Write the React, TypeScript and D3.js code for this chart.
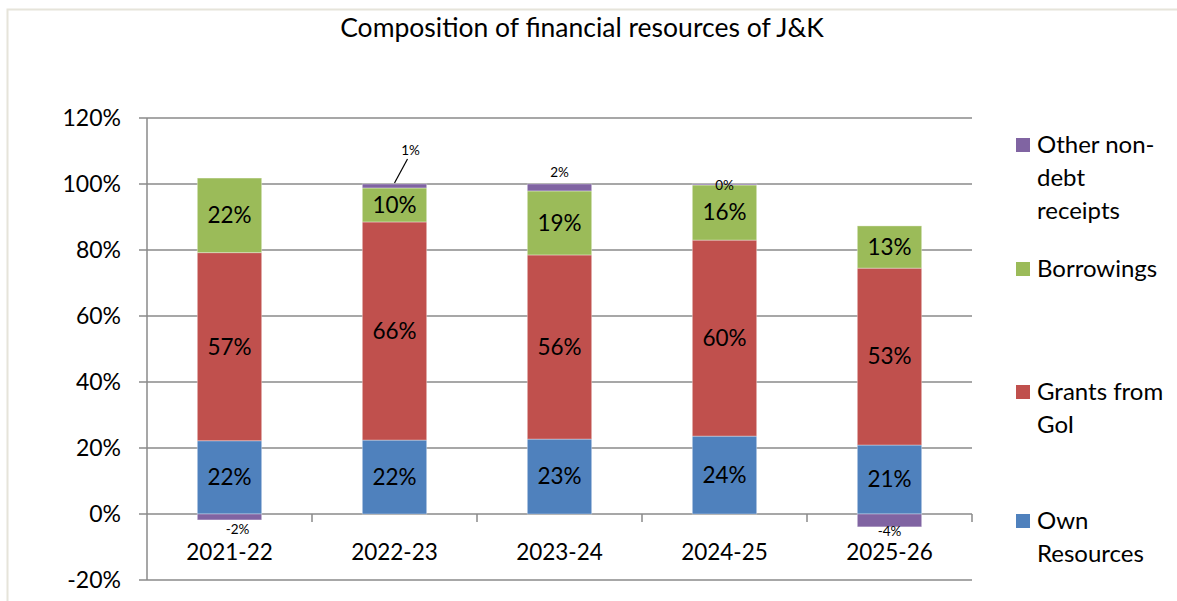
import React from "react";
import * as d3 from "d3";

const categories = ["2021-22", "2022-23", "2023-24", "2024-25", "2025-26"];
const ownResources = [22.2, 22.4, 22.7, 23.6, 20.9];
const grantsFromGoI = [57.0, 66.1, 55.8, 59.4, 53.6];
const borrowings = [22.6, 10.3, 19.4, 16.7, 12.8];
const otherNonDebt = [-1.8, 1.2, 2.1, 0.3, -3.9];
const ownLabels = ["22%", "22%", "23%", "24%", "21%"];
const grantLabels = ["57%", "66%", "56%", "60%", "53%"];
const borrowLabels = ["22%", "10%", "19%", "16%", "13%"];
const otherLabels = ["-2%", "1%", "2%", "0%", "-4%"];
const yTicks = [-20, 0, 20, 40, 60, 80, 100, 120];
const title = "Composition of financial resources of J&K";

const seriesNames = ["Own Resources", "Grants from GoI", "Borrowings", "Other non-debt receipts"];
const colors = ["#4f81bd", "#c0504d", "#9bbb59", "#8064a2"];

// small-label offsets (layout, px) for the "other" series
const otherLabelDy = [9, -34, -12, 1, 4];
const legendLines = [["Own", "Resources"], ["Grants from", "GoI"], ["Borrowings"], ["Other non-", "debt", "receipts"]];
const legendY = [514, 385, 262, 138];

const W = 1177;
const H = 601;
const FONT = "Lato, 'Open Sans', sans-serif";

export default function App() {
  const left = 147, right = 972, top = 118, bottom = 580;
  const x = d3.scaleBand<string>().domain(categories).range([left, right]).paddingInner(0.61).paddingOuter(0.305);
  const y = d3.scaleLinear().domain([-20, 120]).range([bottom, top]);
  const band = d3.scaleBand<string>().domain(categories).range([left, right]);

  const stacks = categories.map((c, i) => {
    const vals = [ownResources[i], grantsFromGoI[i], borrowings[i], otherNonDebt[i]];
    let pos = 0;
    let neg = 0;
    return vals.map((v, s) => {
      let y0, y1;
      if (v >= 0) { y0 = pos; y1 = pos + v; pos = y1; } else { y0 = neg; y1 = neg + v; neg = y1; }
      return { s, v, y0, y1 };
    });
  });
  const bigLabels = [ownLabels, grantLabels, borrowLabels];

  return (
    <svg width={W} height={H} style={{ position: "absolute", left: 0, top: 0, background: "#fff" }} fontFamily={FONT}>
      <rect x={7.5} y={9.5} width={1300} height={800} fill="#fff" stroke="#e6e4da" strokeWidth={2} />
      <text x={582} y={37} textAnchor="middle" fontSize={26.5} fill="#000">{title}</text>

      {yTicks.map((t) => (
        <g key={t}>
          {t !== -20 && <line x1={left} x2={right} y1={y(t)} y2={y(t)} stroke="#8a8a8a" strokeWidth={1.5} />}
          <line x1={left - 8} x2={left} y1={y(t)} y2={y(t)} stroke="#8a8a8a" strokeWidth={1.5} />
          <text x={121} y={y(t)} dy="0.35em" textAnchor="end" fontSize={23} fill="#000">{t}%</text>
        </g>
      ))}
      <line x1={left} x2={left} y1={top} y2={bottom} stroke="#8a8a8a" strokeWidth={1.5} />
      <line x1={left} x2={right} y1={bottom} y2={bottom} stroke="#8a8a8a" strokeWidth={1.5} />

      {stacks.map((st, i) => (
        <g key={categories[i]}>
          {st.map((d) => (
            <rect key={d.s} x={x(categories[i])} width={x.bandwidth()} y={y(Math.max(d.y0, d.y1))}
              height={Math.abs(y(d.y0) - y(d.y1))} fill={colors[d.s]} stroke="#ffffff" strokeOpacity={0.35} strokeWidth={1} />
          ))}
        </g>
      ))}

      {categories.map((c) => (
        <line key={"tick" + c} x1={(band(c) as number) + band.bandwidth()} x2={(band(c) as number) + band.bandwidth()} y1={y(0)} y2={y(0) + 8} stroke="#8a8a8a" strokeWidth={1.5} />
      ))}

      {stacks.map((st, i) => {
        const cx = (x(categories[i]) as number) + x.bandwidth() / 2;
        return (
          <g key={"lab" + i}>
            {st.slice(0, 3).map((d) => (
              <text key={d.s} x={cx} y={y((d.y0 + d.y1) / 2)} dy="0.35em" textAnchor="middle" fontSize={22.5} fill="#000">{bigLabels[d.s][i]}</text>
            ))}
          </g>
        );
      })}

      {categories.map((c) => (
        <text key={"x" + c} x={(band(c) as number) + band.bandwidth() / 2} y={y(0) + 46} textAnchor="middle" fontSize={22.5} fill="#000">{c}</text>
      ))}

      {stacks.map((st, i) => {
        const cx = (x(categories[i]) as number) + x.bandwidth() / 2;
        const d = st[3];
        const edge = y(d.y1);
        const ly = edge + otherLabelDy[i];
        return (
          <g key={"oth" + i}>
            <text x={cx + (i === 1 ? 16 : i === 0 ? 8 : 0)} y={ly} dy="0.35em" textAnchor="middle" fontSize={13.5} fill="#000">{otherLabels[i]}</text>
            {i === 1 && <line x1={cx} y1={edge - 1} x2={cx + 13} y2={ly + 9} stroke="#000" strokeWidth={1.2} />}
          </g>
        );
      })}

      {seriesNames.map((n, s) => (
        <g key={n}>
          <rect x={1016} y={legendY[s]} width={14} height={14} fill={colors[s]} />
          {legendLines[s].map((ln, k) => (
            <text key={k} x={1037} y={legendY[s] + 15 + k * 33} fontSize={24} fill="#000">{ln}</text>
          ))}
        </g>
      ))}
    </svg>
  );
}
